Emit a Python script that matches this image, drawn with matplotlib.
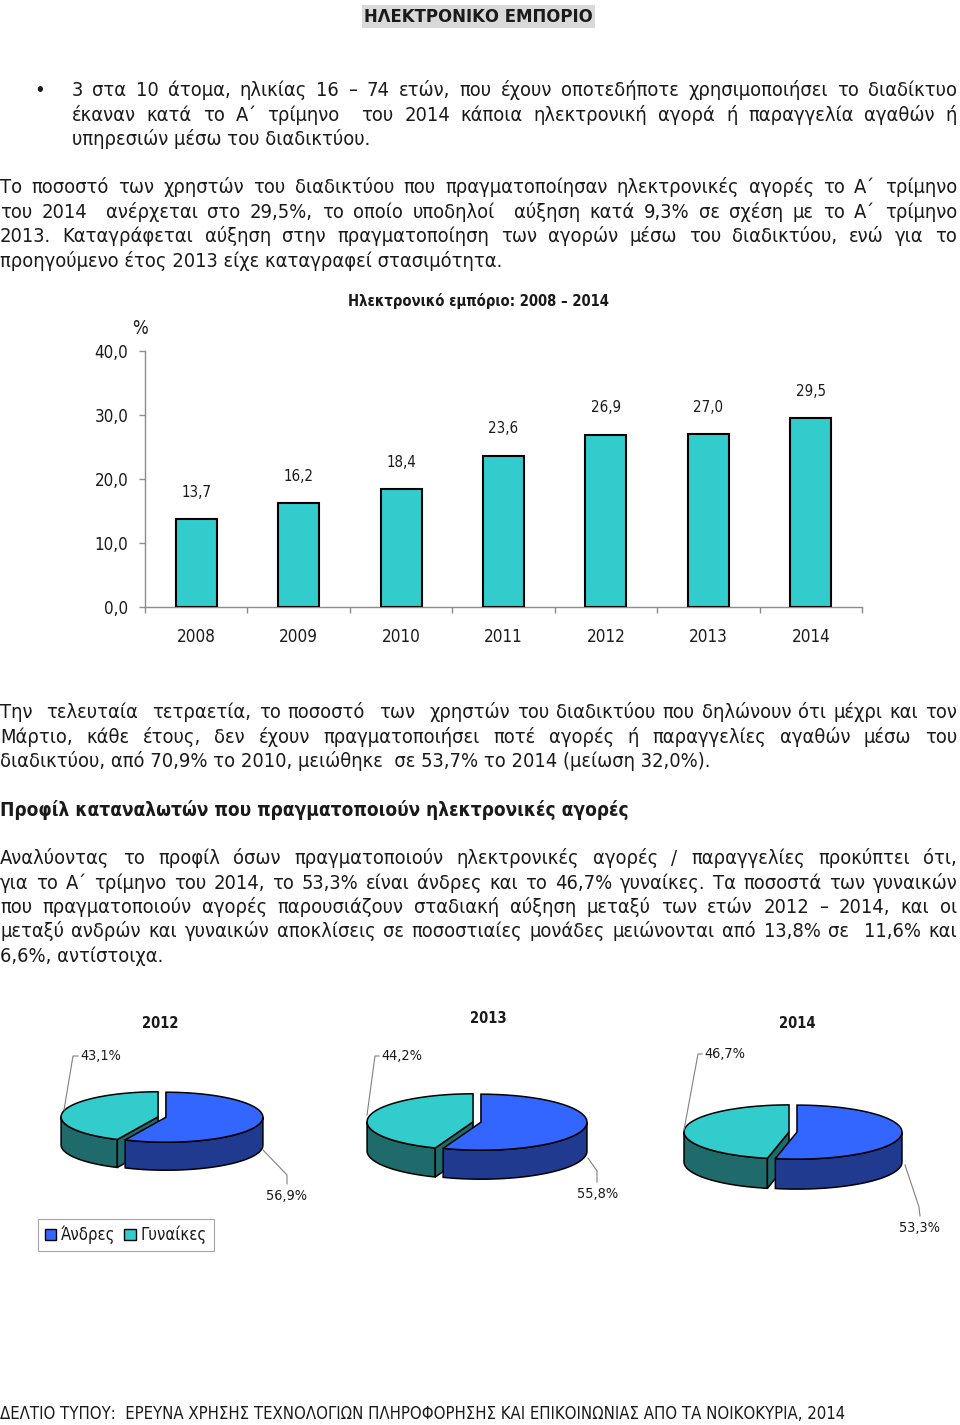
import numpy as np
import matplotlib
matplotlib.use('Agg')
import matplotlib.pyplot as plt
from matplotlib import font_manager as fm
from matplotlib.patches import Polygon, Patch, Rectangle

# ---------------- data ----------------
years = ['2008', '2009', '2010', '2011', '2012', '2013', '2014']
ecommerce = [13.7, 16.2, 18.4, 23.6, 26.9, 27.0, 29.5]
yticks = [0, 10, 20, 30, 40]
ytick_labels = ['0,0', '10,0', '20,0', '30,0', '40,0']
pie_years = ['2012', '2013', '2014']
men = [56.9, 55.8, 53.3]
women = [43.1, 44.2, 46.7]
sex_labels = ['Άνδρες', 'Γυναίκες']

page_title = 'ΗΛΕΚΤΡΟΝΙΚΟ ΕΜΠΟΡΙΟ'
chart_title = 'Ηλεκτρονικό εμπόριο: 2008 – 2014'
heading = 'Προφίλ καταναλωτών που πραγματοποιούν ηλεκτρονικές αγορές'
footer = 'ΔΕΛΤΙΟ ΤΥΠΟΥ:  ΕΡΕΥΝΑ ΧΡΗΣΗΣ ΤΕΧΝΟΛΟΓΙΩΝ ΠΛΗΡΟΦΟΡΗΣΗΣ ΚΑΙ ΕΠΙΚΟΙΝΩΝΙΑΣ ΑΠΟ ΤΑ ΝΟΙΚΟΚΥΡΙΑ, 2014'

bullet_lines = [
    ('3 στα 10 άτομα, ηλικίας 16 – 74 ετών, που έχουν οποτεδήποτε χρησιμοποιήσει το διαδίκτυο', True),
    ('έκαναν κατά το Α΄ τρίμηνο  του 2014 κάποια ηλεκτρονική αγορά ή παραγγελία αγαθών ή', True),
    ('υπηρεσιών μέσω του διαδικτύου.', False),
]
para2 = [
    ('Το ποσοστό των χρηστών του διαδικτύου που πραγματοποίησαν ηλεκτρονικές αγορές το Α΄ τρίμηνο', True),
    ('του 2014  ανέρχεται στο 29,5%, το οποίο υποδηλοί  αύξηση κατά 9,3% σε σχέση με το Α΄ τρίμηνο', True),
    ('2013. Καταγράφεται αύξηση στην πραγματοποίηση των αγορών μέσω του διαδικτύου, ενώ για το', True),
    ('προηγούμενο έτος 2013 είχε καταγραφεί στασιμότητα.', False),
]
para3 = [
    ('Την  τελευταία  τετραετία, το ποσοστό  των  χρηστών του διαδικτύου που δηλώνουν ότι μέχρι και τον', True),
    ('Μάρτιο, κάθε έτους, δεν έχουν πραγματοποιήσει ποτέ αγορές ή παραγγελίες αγαθών μέσω του', True),
    ('διαδικτύου, από 70,9% το 2010, μειώθηκε  σε 53,7% το 2014 (μείωση 32,0%).', False),
]
para4 = [
    ('Αναλύοντας το προφίλ όσων πραγματοποιούν ηλεκτρονικές αγορές / παραγγελίες προκύπτει ότι,', True),
    ('για το Α΄ τρίμηνο του 2014, το 53,3% είναι άνδρες και το 46,7% γυναίκες. Τα ποσοστά των γυναικών', True),
    ('που πραγματοποιούν αγορές παρουσιάζουν σταδιακή αύξηση μεταξύ των ετών 2012 – 2014, και οι', True),
    ('μεταξύ ανδρών και γυναικών αποκλίσεις σε ποσοστιαίες μονάδες μειώνονται από 13,8% σε  11,6% και', True),
    ('6,6%, αντίστοιχα.', False),
]

# ---------------- font choice (prefer a narrow face, like the squeezed original) ----------------
names = {f.name for f in fm.fontManager.ttflist}
dejavu_cond = any(f.name == 'DejaVu Sans' and 'condensed' in f.fname.lower() for f in fm.fontManager.ttflist)
STRETCH = 'normal'
if 'Liberation Sans Narrow' in names:
    FONT = ['Liberation Sans Narrow', 'DejaVu Sans']
elif dejavu_cond:
    FONT = ['DejaVu Sans']
    STRETCH = 'condensed'
elif 'Roboto Condensed' in names:
    FONT = ['Roboto Condensed', 'DejaVu Sans']
else:
    FONT = ['DejaVu Sans']
plt.rcParams['font.family'] = FONT
plt.rcParams['font.stretch'] = STRETCH

TXT = '#1a1a1a'
BAR = '#33CCCC'
M_TOP, M_SIDE = '#3366FF', '#1F3A8F'
W_TOP, W_SIDE = '#33CCCC', '#1F6B6B'
GRAY = '#8c8c8c'

fig = plt.figure(figsize=(9.6, 14.25), dpi=100)
fig.patch.set_facecolor('white')
R = fig.canvas.get_renderer()


def width_px(s, size, weight='normal'):
    t = fig.text(0, 0, s, fontsize=size, weight=weight, family=FONT, stretch=STRETCH)
    w = t.get_window_extent(R).width
    t.remove()
    return w


def fit(s, target, weight='normal'):
    return 10.0 * target / width_px(s, 10.0, weight)


body_size = np.mean([
    fit('υπηρεσιών μέσω του διαδικτύου.', 309),
    fit('προηγούμενο έτος 2013 είχε καταγραφεί στασιμότητα.', 509),
    fit('διαδικτύου, από 70,9% το 2010, μειώθηκε  σε 53,7% το 2014 (μείωση 32,0%).', 700),
    fit('6,6%, αντίστοιχα.', 157),
])

# ---------------- bar chart ----------------
H = 1425.0
ax = fig.add_axes([145 / 960, (H - 607) / H, 717 / 960, 256 / H])
x = np.arange(len(years))
ax.bar(x, ecommerce, width=0.4, color=BAR, edgecolor='black', linewidth=1.5, zorder=3)
ax.set_xlim(-0.5, len(years) - 0.5)
ax.set_ylim(0, 40)
for sp in ('top', 'right'):
    ax.spines[sp].set_visible(False)
for sp in ('left', 'bottom'):
    ax.spines[sp].set_color(GRAY)
    ax.spines[sp].set_linewidth(1.0)
tick_size = fit('40,0', 34)
year_size = fit('2008', 39)
val_size = fit('13,7', 30)
ax.set_yticks(yticks)
ax.set_yticklabels(ytick_labels)
ax.tick_params(axis='y', length=4, width=1, color=GRAY, pad=8, labelsize=tick_size, labelcolor=TXT)
ax.set_xticks(x)
ax.set_xticklabels(years)
ax.tick_params(axis='x', which='major', length=0, pad=15, labelsize=year_size, labelcolor=TXT)
ax.set_xticks(np.arange(len(years) + 1) - 0.5, minor=True)
ax.tick_params(axis='x', which='minor', length=4, width=1, color=GRAY)
for xi, v in zip(x, ecommerce):
    ax.annotate(f'{v:.1f}'.replace('.', ','), (xi, v), xytext=(0, 27), textcoords='offset pixels',
                ha='center', va='center', fontsize=val_size, color=TXT)

# ---------------- overlay in pixel coordinates ----------------
ov = fig.add_axes([0, 0, 1, 1])
ov.set_xlim(0, 960)
ov.set_ylim(H, 0)
ov.axis('off')


def put(x0, yb, s, size, weight='normal', ha='left', va='baseline', color=TXT):
    ov.text(x0, yb, s, fontsize=size, weight=weight, ha=ha, va=va, color=color,
            family=FONT, stretch=STRETCH)


def draw_line(s, x0, x1, yb, size, justify):
    if not justify:
        put(x0, yb, s, size)
        return
    tokens = s.split(' ')
    sp = width_px('a a', size) - width_px('aa', size)
    widths = [width_px(t, size) if t else 0.0 for t in tokens]
    gap = (x1 - x0 - sum(widths)) / (len(tokens) - 1)
    if gap < 0.6 * sp:
        size = size * (x1 - x0) / (sum(widths) + 0.6 * sp * (len(tokens) - 1))
        widths = [width_px(t, size) if t else 0.0 for t in tokens]
        gap = (x1 - x0 - sum(widths)) / (len(tokens) - 1)
    xx = x0
    for t, w in zip(tokens, widths):
        if t:
            put(xx, yb, t, size)
        xx += w + gap


ov.add_patch(Rectangle((362, 5), 233, 23, facecolor='#d9d9d9', edgecolor='none'))
put(478.5, 16.5, page_title, fit(page_title, 227, 'bold'), weight='bold', ha='center', va='center')

put(40, 96, '•', body_size, ha='center')
for (s, j), yb in zip(bullet_lines, [96, 120.5, 145]):
    draw_line(s, 72, 957, yb, body_size, j)
for (s, j), yb in zip(para2, [193, 217.5, 242, 266.5]):
    draw_line(s, 0, 957, yb, body_size, j)

put(478.5, 301, chart_title, fit(chart_title, 261, 'bold'), weight='bold', ha='center', va='center')
put(140, 328, '%', tick_size * 1.1, ha='center', va='center')

for (s, j), yb in zip(para3, [718, 742.5, 767]):
    draw_line(s, 0, 957, yb, body_size, j)
put(0, 815.5, heading, fit(heading, 629, 'bold'), weight='bold')
for (s, j), yb in zip(para4, [864, 888.5, 913, 937, 961.5]):
    draw_line(s, 0, 957, yb, body_size, j)

# ---------------- 3D pies ----------------
PIES = [dict(cx=162, cy=1117, a=97, b=25, d=28, tx=160, ty=1024),
        dict(cx=477, cy=1122, a=106, b=28, d=29, tx=488, ty=1018),
        dict(cx=793, cy=1132, a=105, b=27, d=30, tx=797, ty=1023)]
EXPLODE = 4.0
LABELS = [
    dict(w=(80, 1056), wl=[(78, 1056), (73, 1056), (64, 1110)],
         m=(287, 1196), ml=[(263, 1150), (287, 1175), (287, 1184)]),
    dict(w=(381, 1056), wl=[(379, 1056), (375, 1056), (367, 1115)],
         m=(598, 1194), ml=[(588, 1158), (597, 1171), (597, 1182)]),
    dict(w=(704, 1054), wl=[(702, 1054), (698, 1054), (684, 1130)],
         m=(920, 1228), ml=[(905, 1165), (919, 1207), (920, 1216)]),
]
pie_title_size = fit('2012', 37, 'bold')
pct_size = fit('43,1%', 41)


def ell(cx, cy, a, b, t1, t2, n=80):
    t = np.radians(np.linspace(t1, t2, n))
    return np.column_stack([cx + a * np.cos(t), cy - b * np.sin(t)])


for k, yr in enumerate(pie_years):
    g = PIES[k]
    a, b, d = g['a'], g['b'], g['d']
    slices = [(90.0, 90.0 + 360.0 * women[k] / 100.0, W_TOP, W_SIDE),
              (90.0 - 360.0 * men[k] / 100.0, 90.0, M_TOP, M_SIDE)]
    for t1, t2, ctop, cside in slices:
        mid = np.radians((t1 + t2) / 2)
        cx = g['cx'] + EXPLODE * np.cos(mid)
        cy = g['cy'] - EXPLODE * (b / a) * np.sin(mid)
        for i0, i1 in ((-180.0, 0.0), (180.0, 360.0)):
            lo, hi = max(t1, i0), min(t2, i1)
            if hi > lo:
                top = ell(cx, cy, a, b, lo, hi)
                poly = np.vstack([top, (top + [0, d])[::-1]])
                ov.add_patch(Polygon(poly, closed=True, facecolor=cside, edgecolor='black', linewidth=1.1))
        for tb, nrm in ((t2, t2 + 90), (t1, t1 - 90)):
            if np.sin(np.radians(nrm)) < -1e-6:
                rx = cx + a * np.cos(np.radians(tb))
                ry = cy - b * np.sin(np.radians(tb))
                poly = [(cx, cy), (rx, ry), (rx, ry + d), (cx, cy + d)]
                ov.add_patch(Polygon(poly, closed=True, facecolor=cside, edgecolor='black', linewidth=1.1))
        top = np.vstack([[cx, cy], ell(cx, cy, a, b, t1, t2)])
        ov.add_patch(Polygon(top, closed=True, facecolor=ctop, edgecolor='black', linewidth=1.1))

    put(g['tx'], g['ty'], yr, pie_title_size, weight='bold', ha='center', va='center')
    L = LABELS[k]
    wx, wy = zip(*L['wl'])
    ov.plot(wx, wy, color='#808080', lw=0.8)
    mx, my = zip(*L['ml'])
    ov.plot(mx, my, color='#808080', lw=0.8)
    put(L['w'][0], L['w'][1], f'{women[k]:.1f}%'.replace('.', ','), pct_size, ha='left', va='center')
    put(L['m'][0], L['m'][1], f'{men[k]:.1f}%'.replace('.', ','), pct_size, ha='center', va='center')

leg_size = min(fit('Άνδρες', 56), fit('Γυναίκες', 66))
leg = fig.legend(handles=[Patch(facecolor=M_TOP, edgecolor='black', linewidth=1.0),
                          Patch(facecolor=W_TOP, edgecolor='black', linewidth=1.0)],
                 labels=sex_labels, loc='lower left', bbox_to_anchor=(38 / 960, 1 - 1251 / H),
                 ncol=2, frameon=True, fancybox=False, edgecolor='#a6a6a6', framealpha=1,
                 handlelength=0.7, handleheight=0.7, handletextpad=0.3, columnspacing=0.5,
                 borderpad=0.4, borderaxespad=0, fontsize=leg_size)
leg.get_frame().set_linewidth(0.8)
for t in leg.get_texts():
    t.set_color(TXT)

put(0, 1419, footer, fit(footer, 845))

fig.savefig('out.png', dpi=100, facecolor='white')
